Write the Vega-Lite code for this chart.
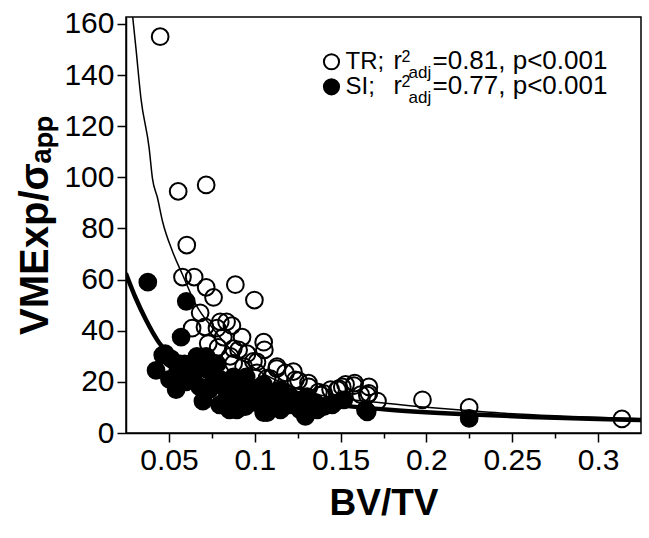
{
  "$schema": "https://vega.github.io/schema/vega-lite/v6.json",
  "width": 515,
  "height": 416,
  "autosize": {"type": "none"},
  "padding": {"left": 126, "top": 17, "right": 8, "bottom": 105},
  "background": "white",
  "config": {
    "font": "Liberation Sans",
    "view": {"stroke": "black", "strokeWidth": 1.5},
    "axis": {
      "domainColor": "black", "domainWidth": 1.5,
      "tickColor": "black", "tickWidth": 1.5, "tickSize": 9,
      "labelFont": "Liberation Sans", "labelFontSize": 30, "labelColor": "black", "labelPadding": 3,
      "titleFont": "Liberation Sans", "titleFontWeight": "bold", "titleColor": "black",
      "grid": false
    }
  },
  "datasets": {
    "pts": [
      {"series": "TR", "bvtv": 0.0449, "v": 155},
      {"series": "TR", "bvtv": 0.0554, "v": 94.5},
      {"series": "TR", "bvtv": 0.0717, "v": 97},
      {"series": "TR", "bvtv": 0.0604, "v": 73.5},
      {"series": "TR", "bvtv": 0.0579, "v": 61},
      {"series": "TR", "bvtv": 0.0647, "v": 61},
      {"series": "TR", "bvtv": 0.0887, "v": 58},
      {"series": "TR", "bvtv": 0.0717, "v": 57},
      {"series": "TR", "bvtv": 0.076, "v": 53},
      {"series": "TR", "bvtv": 0.0998, "v": 52},
      {"series": "TR", "bvtv": 0.0682, "v": 47},
      {"series": "TR", "bvtv": 0.0799, "v": 43.5},
      {"series": "TR", "bvtv": 0.0867, "v": 42},
      {"series": "TR", "bvtv": 0.0635, "v": 41},
      {"series": "TR", "bvtv": 0.071, "v": 41.5},
      {"series": "TR", "bvtv": 0.078, "v": 41},
      {"series": "TR", "bvtv": 0.0836, "v": 43.5},
      {"series": "TR", "bvtv": 0.0926, "v": 37.5},
      {"series": "TR", "bvtv": 0.1052, "v": 35.5},
      {"series": "TR", "bvtv": 0.1056, "v": 32.5},
      {"series": "TR", "bvtv": 0.0817, "v": 37.5},
      {"series": "TR", "bvtv": 0.0729, "v": 35},
      {"series": "TR", "bvtv": 0.0787, "v": 33.5},
      {"series": "TR", "bvtv": 0.0875, "v": 33},
      {"series": "TR", "bvtv": 0.0857, "v": 30},
      {"series": "TR", "bvtv": 0.0955, "v": 31},
      {"series": "TR", "bvtv": 0.0906, "v": 32.5},
      {"series": "TR", "bvtv": 0.0992, "v": 28},
      {"series": "TR", "bvtv": 0.0877, "v": 27.2},
      {"series": "TR", "bvtv": 0.0935, "v": 26},
      {"series": "TR", "bvtv": 0.1013, "v": 27.8},
      {"series": "TR", "bvtv": 0.113, "v": 26},
      {"series": "TR", "bvtv": 0.1128, "v": 25.2},
      {"series": "TR", "bvtv": 0.1179, "v": 23.5},
      {"series": "TR", "bvtv": 0.1225, "v": 24},
      {"series": "TR", "bvtv": 0.1013, "v": 23.5},
      {"series": "TR", "bvtv": 0.1072, "v": 21.5},
      {"series": "TR", "bvtv": 0.1091, "v": 21.3},
      {"series": "TR", "bvtv": 0.1237, "v": 20.8},
      {"series": "TR", "bvtv": 0.1255, "v": 20.5},
      {"series": "TR", "bvtv": 0.1313, "v": 19.5},
      {"series": "TR", "bvtv": 0.1315, "v": 18},
      {"series": "TR", "bvtv": 0.1371, "v": 16},
      {"series": "TR", "bvtv": 0.1385, "v": 14.8},
      {"series": "TR", "bvtv": 0.1401, "v": 15.5},
      {"series": "TR", "bvtv": 0.1442, "v": 17},
      {"series": "TR", "bvtv": 0.1481, "v": 17},
      {"series": "TR", "bvtv": 0.149, "v": 17.4},
      {"series": "TR", "bvtv": 0.151, "v": 18},
      {"series": "TR", "bvtv": 0.1529, "v": 19},
      {"series": "TR", "bvtv": 0.1578, "v": 18.5},
      {"series": "TR", "bvtv": 0.1582, "v": 19.5},
      {"series": "TR", "bvtv": 0.1617, "v": 15},
      {"series": "TR", "bvtv": 0.1656, "v": 14.8},
      {"series": "TR", "bvtv": 0.1665, "v": 18},
      {"series": "TR", "bvtv": 0.1665, "v": 15.5},
      {"series": "TR", "bvtv": 0.1715, "v": 12.5},
      {"series": "TR", "bvtv": 0.1977, "v": 13},
      {"series": "TR", "bvtv": 0.2249, "v": 10},
      {"series": "TR", "bvtv": 0.3139, "v": 5.5},
      {"series": "SI", "bvtv": 0.0377, "v": 59},
      {"series": "SI", "bvtv": 0.0601, "v": 51.5},
      {"series": "SI", "bvtv": 0.0571, "v": 37.5},
      {"series": "SI", "bvtv": 0.0464, "v": 30.5},
      {"series": "SI", "bvtv": 0.0478, "v": 31},
      {"series": "SI", "bvtv": 0.0425, "v": 24.5},
      {"series": "SI", "bvtv": 0.0542, "v": 17},
      {"series": "SI", "bvtv": 0.0503, "v": 21},
      {"series": "SI", "bvtv": 0.0513, "v": 29},
      {"series": "SI", "bvtv": 0.055, "v": 24},
      {"series": "SI", "bvtv": 0.0565, "v": 27},
      {"series": "SI", "bvtv": 0.0591, "v": 27},
      {"series": "SI", "bvtv": 0.06, "v": 20},
      {"series": "SI", "bvtv": 0.064, "v": 22},
      {"series": "SI", "bvtv": 0.0659, "v": 27},
      {"series": "SI", "bvtv": 0.0663, "v": 30},
      {"series": "SI", "bvtv": 0.068, "v": 18},
      {"series": "SI", "bvtv": 0.0698, "v": 12.5},
      {"series": "SI", "bvtv": 0.0717, "v": 30},
      {"series": "SI", "bvtv": 0.0721, "v": 26},
      {"series": "SI", "bvtv": 0.0737, "v": 17},
      {"series": "SI", "bvtv": 0.075, "v": 19},
      {"series": "SI", "bvtv": 0.0756, "v": 24.5},
      {"series": "SI", "bvtv": 0.078, "v": 27},
      {"series": "SI", "bvtv": 0.0795, "v": 11},
      {"series": "SI", "bvtv": 0.0799, "v": 21},
      {"series": "SI", "bvtv": 0.083, "v": 13},
      {"series": "SI", "bvtv": 0.0834, "v": 17},
      {"series": "SI", "bvtv": 0.0853, "v": 9},
      {"series": "SI", "bvtv": 0.0873, "v": 21},
      {"series": "SI", "bvtv": 0.0877, "v": 22},
      {"series": "SI", "bvtv": 0.0896, "v": 18},
      {"series": "SI", "bvtv": 0.0896, "v": 9},
      {"series": "SI", "bvtv": 0.09, "v": 14},
      {"series": "SI", "bvtv": 0.0945, "v": 10.3},
      {"series": "SI", "bvtv": 0.095, "v": 22},
      {"series": "SI", "bvtv": 0.0975, "v": 18},
      {"series": "SI", "bvtv": 0.0994, "v": 15.5},
      {"series": "SI", "bvtv": 0.1, "v": 12},
      {"series": "SI", "bvtv": 0.1052, "v": 8},
      {"series": "SI", "bvtv": 0.105, "v": 19},
      {"series": "SI", "bvtv": 0.1072, "v": 8},
      {"series": "SI", "bvtv": 0.1091, "v": 15.5},
      {"series": "SI", "bvtv": 0.1091, "v": 14.3},
      {"series": "SI", "bvtv": 0.11, "v": 11},
      {"series": "SI", "bvtv": 0.115, "v": 9},
      {"series": "SI", "bvtv": 0.115, "v": 17},
      {"series": "SI", "bvtv": 0.1189, "v": 14.3},
      {"series": "SI", "bvtv": 0.12, "v": 11},
      {"series": "SI", "bvtv": 0.1208, "v": 14.2},
      {"series": "SI", "bvtv": 0.125, "v": 11},
      {"series": "SI", "bvtv": 0.1265, "v": 9},
      {"series": "SI", "bvtv": 0.1266, "v": 13},
      {"series": "SI", "bvtv": 0.1295, "v": 6.5},
      {"series": "SI", "bvtv": 0.1305, "v": 14.2},
      {"series": "SI", "bvtv": 0.135, "v": 12},
      {"series": "SI", "bvtv": 0.1364, "v": 9},
      {"series": "SI", "bvtv": 0.1383, "v": 10.3},
      {"series": "SI", "bvtv": 0.1402, "v": 10.3},
      {"series": "SI", "bvtv": 0.1451, "v": 11},
      {"series": "SI", "bvtv": 0.1461, "v": 11.7},
      {"series": "SI", "bvtv": 0.1519, "v": 13},
      {"series": "SI", "bvtv": 0.1645, "v": 9},
      {"series": "SI", "bvtv": 0.1655, "v": 8.3},
      {"series": "SI", "bvtv": 0.2249, "v": 5.7}
    ],
    "fits": [
      {"series": "TR", "bvtv": 0.0288, "v": 163.4},
      {"series": "TR", "bvtv": 0.0308, "v": 150.4},
      {"series": "TR", "bvtv": 0.0337, "v": 130.9},
      {"series": "TR", "bvtv": 0.0385, "v": 111.3},
      {"series": "TR", "bvtv": 0.0404, "v": 99.6},
      {"series": "TR", "bvtv": 0.0434, "v": 91.8},
      {"series": "TR", "bvtv": 0.0463, "v": 82.7},
      {"series": "TR", "bvtv": 0.0521, "v": 71.0},
      {"series": "TR", "bvtv": 0.058, "v": 61.8},
      {"series": "TR", "bvtv": 0.0658, "v": 50.1},
      {"series": "TR", "bvtv": 0.0755, "v": 41.0},
      {"series": "TR", "bvtv": 0.0872, "v": 31.9},
      {"series": "TR", "bvtv": 0.1028, "v": 24.1},
      {"series": "TR", "bvtv": 0.1184, "v": 18.9},
      {"series": "TR", "bvtv": 0.1378, "v": 14.9},
      {"series": "TR", "bvtv": 0.1709, "v": 12.0},
      {"series": "TR", "bvtv": 0.1962, "v": 10.3},
      {"series": "TR", "bvtv": 0.2235, "v": 8.8},
      {"series": "TR", "bvtv": 0.243, "v": 7.8},
      {"series": "TR", "bvtv": 0.28, "v": 6.6},
      {"series": "TR", "bvtv": 0.3247, "v": 5.6},
      {"series": "SI", "bvtv": 0.0249, "v": 62.5},
      {"series": "SI", "bvtv": 0.0307, "v": 52.7},
      {"series": "SI", "bvtv": 0.0366, "v": 44.3},
      {"series": "SI", "bvtv": 0.0444, "v": 35.2},
      {"series": "SI", "bvtv": 0.055, "v": 28.5},
      {"series": "SI", "bvtv": 0.07, "v": 22.5},
      {"series": "SI", "bvtv": 0.085, "v": 18.5},
      {"series": "SI", "bvtv": 0.1, "v": 15.8},
      {"series": "SI", "bvtv": 0.12, "v": 13.2},
      {"series": "SI", "bvtv": 0.15, "v": 10.8},
      {"series": "SI", "bvtv": 0.18, "v": 9.0},
      {"series": "SI", "bvtv": 0.22, "v": 7.4},
      {"series": "SI", "bvtv": 0.26, "v": 6.3},
      {"series": "SI", "bvtv": 0.3, "v": 5.5},
      {"series": "SI", "bvtv": 0.325, "v": 5.1}
    ],
    "legend": [
      {"series": "TR", "bvtv": 0.1447, "v": 145.2, "name": "TR;", "stat": "=0.81, p<0.001"},
      {"series": "SI", "bvtv": 0.1447, "v": 135.4, "name": "SI;", "stat": "=0.77, p<0.001"}
    ]
  },
  "resolve": {"scale": {"x": "shared", "y": "shared"}, "axis": {"x": "independent"}},
  "layer": [
    {
      "data": {"name": "pts"},
      "mark": {"type": "point", "shape": "circle", "size": 280, "strokeWidth": 2, "stroke": "black", "opacity": 1, "fillOpacity": 1},
      "encoding": {
        "x": {"field": "bvtv", "type": "quantitative", "scale": {"domain": [0.025, 0.325], "nice": false, "zero": false},
              "axis": {"title": "BV/TV", "titleFontSize": 37, "titlePadding": 10, "values": [0.05, 0.1, 0.15, 0.2, 0.25, 0.3], "format": ".2~f", "orient": "bottom"}},
        "y": {"field": "v", "type": "quantitative", "scale": {"domain": [0, 162.7], "nice": false},
              "axis": {"title": "VMExp/σₐₚₚ", "titleFontSize": 40, "titlePadding": 8, "values": [0, 20, 40, 60, 80, 100, 120, 140, 160]}},
        "fill": {"field": "series", "type": "nominal", "scale": {"domain": ["TR", "SI"], "range": ["rgba(255,255,255,0)", "black"]}, "legend": null}
      }
    },
    {
      "data": {"name": "fits"},
      "mark": {"type": "line", "color": "black", "clip": true, "interpolate": "monotone"},
      "encoding": {
        "x": {"field": "bvtv", "type": "quantitative",
              "axis": {"title": null, "labels": false, "domain": false, "tickSize": 5, "values": [0.075, 0.125, 0.175, 0.225, 0.275], "orient": "bottom"}},
        "y": {"field": "v", "type": "quantitative"},
        "detail": {"field": "series", "type": "nominal"},
        "strokeWidth": {"field": "series", "type": "nominal", "scale": {"domain": ["TR", "SI"], "range": [1.5, 4.5]}, "legend": null}
      }
    },
    {
      "data": {"name": "legend"},
      "mark": {"type": "point", "shape": "circle", "size": 230, "strokeWidth": 2, "stroke": "black", "opacity": 1, "fillOpacity": 1},
      "encoding": {
        "x": {"field": "bvtv", "type": "quantitative", "axis": null},
        "y": {"field": "v", "type": "quantitative"},
        "fill": {"field": "series", "type": "nominal", "scale": {"domain": ["TR", "SI"], "range": ["rgba(255,255,255,0)", "black"]}, "legend": null}
      }
    },
    {
      "data": {"name": "legend"},
      "mark": {"type": "text", "align": "left", "baseline": "alphabetic", "dx": 14, "dy": 7, "fontSize": 24, "color": "black"},
      "encoding": {
        "x": {"field": "bvtv", "type": "quantitative", "axis": null},
        "y": {"field": "v", "type": "quantitative"},
        "text": {"field": "name"}
      }
    },
    {
      "data": {"name": "legend"},
      "mark": {"type": "text", "align": "left", "baseline": "alphabetic", "dx": 62, "dy": 7, "fontSize": 25, "color": "black"},
      "encoding": {
        "x": {"field": "bvtv", "type": "quantitative", "axis": null},
        "y": {"field": "v", "type": "quantitative"},
        "text": {"value": "r"}
      }
    },
    {
      "data": {"name": "legend"},
      "mark": {"type": "text", "align": "left", "baseline": "alphabetic", "dx": 70, "dy": 0, "fontSize": 16, "color": "black"},
      "encoding": {
        "x": {"field": "bvtv", "type": "quantitative", "axis": null},
        "y": {"field": "v", "type": "quantitative"},
        "text": {"value": "2"}
      }
    },
    {
      "data": {"name": "legend"},
      "mark": {"type": "text", "align": "left", "baseline": "alphabetic", "dx": 77, "dy": 16, "fontSize": 17, "color": "black"},
      "encoding": {
        "x": {"field": "bvtv", "type": "quantitative", "axis": null},
        "y": {"field": "v", "type": "quantitative"},
        "text": {"value": "adj"}
      }
    },
    {
      "data": {"name": "legend"},
      "mark": {"type": "text", "align": "left", "baseline": "alphabetic", "dx": 101, "dy": 7, "fontSize": 26, "color": "black"},
      "encoding": {
        "x": {"field": "bvtv", "type": "quantitative", "axis": null},
        "y": {"field": "v", "type": "quantitative"},
        "text": {"field": "stat"}
      }
    }
  ]
}
